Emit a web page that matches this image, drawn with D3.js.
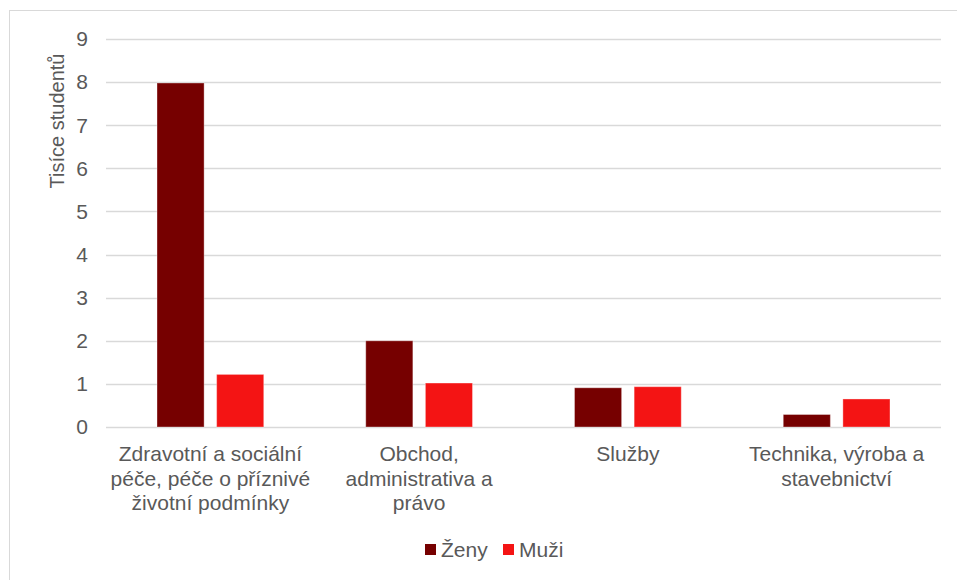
<!DOCTYPE html>
<html>
<head>
<meta charset="utf-8">
<script src="https://cdn.jsdelivr.net/npm/d3@7"></script>
<style>
  body { margin: 0; background: #fff; }
  svg { display: block; font-family: "Liberation Sans", Arial, sans-serif; }
</style>
</head>
<body>
<div id="chart"></div>
<script>
// data
var categories = [
  ["Zdravotní a sociální", "péče, péče o příznivé", "životní podmínky"],
  ["Obchod,", "administrativa a", "právo"],
  ["Služby"],
  ["Technika, výroba a", "stavebnictví"]
];
var seriesNames = ["Ženy", "Muži"];
var zeny = [7.98, 2.0, 0.91, 0.29];
var muzi = [1.22, 1.02, 0.935, 0.65];
var yTicks = [0, 1, 2, 3, 4, 5, 6, 7, 8, 9];

var w = 957, h = 580;
var colors = ["#760000", "#f41414"];
var textColor = "#595959";

var svg = d3.select('div#chart').append('svg')
            .attr('width', w)
            .attr('height', h);

// outer frame
svg.append('rect')
   .attr('x', 9.5).attr('y', 10.5)
   .attr('width', w + 10).attr('height', h + 10)
   .attr('fill', 'none')
   .attr('stroke', '#d9d9d9');

var plot = {left: 106, right: 941, top: 39, bottom: 427};

var x0 = d3.scaleBand()
           .domain(d3.range(categories.length))
           .range([plot.left, plot.right])
           .paddingInner(0)
           .paddingOuter(0);

var x1 = d3.scaleBand()
           .domain(d3.range(seriesNames.length))
           .range([51, x0.bandwidth() - 51])
           .paddingInner(0.21);

var y = d3.scaleLinear().domain([0, 9]).range([plot.bottom, plot.top]);

// gridlines
svg.append('g').selectAll('line').data(yTicks).enter()
   .append('line')
   .attr('x1', plot.left).attr('x2', plot.right)
   .attr('y1', function(d){ return Math.round(y(d)) + 0.5; })
   .attr('y2', function(d){ return Math.round(y(d)) + 0.5; })
   .attr('stroke', '#d9d9d9')
   .attr('stroke-width', 1.3);

// y tick labels
svg.append('g').selectAll('text').data(yTicks).enter()
   .append('text')
   .attr('x', 88)
   .attr('y', function(d){ return y(d); })
   .attr('dy', '0.35em')
   .attr('text-anchor', 'end')
   .attr('fill', textColor)
   .style('font-size', '21px')
   .text(function(d){ return d; });

// y axis title
svg.append('text')
   .attr('transform', 'translate(64,121) rotate(-90)')
   .attr('text-anchor', 'middle')
   .attr('fill', textColor)
   .style('font-size', '20px')
   .text('Tisíce studentů');

// bars
var series = [zeny, muzi];
var groups = svg.append('g').selectAll('g').data(categories).enter()
                .append('g')
                .attr('transform', function(d, i){ return 'translate(' + x0(i) + ',0)'; });

groups.selectAll('rect')
      .data(function(d, i){ return series.map(function(s, j){ return {s: j, v: s[i]}; }); })
      .enter()
      .append('rect')
      .attr('x', function(d){ return x1(d.s); })
      .attr('width', x1.bandwidth())
      .attr('y', function(d){ return y(d.v); })
      .attr('height', function(d){ return y(0) - y(d.v); })
      .attr('fill', function(d){ return colors[d.s]; })
      .attr('stroke', 'rgba(255,255,255,0.35)')
      .attr('stroke-width', 1);

// category labels
groups.append('text')
      .attr('text-anchor', 'middle')
      .attr('fill', textColor)
      .style('font-size', '21px')
      .selectAll('tspan')
      .data(function(d){ return d; })
      .enter()
      .append('tspan')
      .attr('x', x0.bandwidth() / 2)
      .attr('y', function(d, i){ return 461 + i * 24.5; })
      .text(function(d){ return d; });

// legend
var legendItems = [{x: 425, name: seriesNames[0]}, {x: 503, name: seriesNames[1]}];
var legend = svg.append('g').selectAll('g').data(legendItems).enter()
                .append('g')
                .attr('transform', function(d){ return 'translate(' + d.x + ',544)'; });

legend.append('rect')
      .attr('width', 11).attr('height', 11)
      .attr('fill', function(d, i){ return colors[i]; });

legend.append('text')
      .attr('x', 16).attr('y', 5.5)
      .attr('dy', '0.35em')
      .attr('fill', textColor)
      .style('font-size', '21px')
      .text(function(d){ return d.name; });
</script>
</body>
</html>
